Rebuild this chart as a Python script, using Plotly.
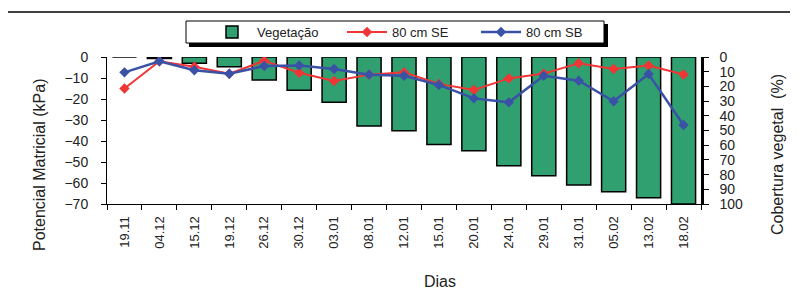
import plotly.graph_objects as go

dias = ["19.11", "04.12", "15.12", "19.12", "26.12", "30.12", "03.01", "08.01", "12.01",
        "15.01", "20.01", "24.01", "29.01", "31.01", "05.02", "13.02", "18.02"]
vegetacao = [0, 1, 4.3, 6.6, 15.6, 22.7, 30.8, 47, 50.2, 59.6, 63.7, 74, 80.7, 87, 91.6, 95.7, 100]
se_80 = [-15, -2, -4.6, -8, -1.8, -7.5, -11.4, -8.4, -7.3, -12.8, -15.7, -10.2, -7.9, -3, -5.7, -4.1, -8.3]
sb_80 = [-7.3, -2, -6.3, -8, -4.3, -4, -5.7, -8.4, -8.9, -13.3, -19.7, -21.6, -8.9, -11.3, -21.1, -8.1, -32.4]

# page body has an 8px margin; layout coordinates below are screen pixels
OFF = 8
W, H = 798 - OFF, 291 - OFF
L, R, T, B = 107, 701, 57, 204


def px(x):
    return (x - L) / (R - L)


def py(y):
    return (B - y) / (B - T)


FONT = "Liberation Sans, Arial, sans-serif"
TXT = "#222222"

fig = go.Figure()
fig.add_trace(go.Bar(
    x=dias, y=vegetacao, name="Vegetação", yaxis="y", legend="legend",
    marker=dict(color="#31a070", line=dict(color="black", width=1.5)),
    width=0.69,
))
fig.add_trace(go.Scatter(
    x=dias, y=se_80, name="80 cm SE", yaxis="y2", mode="lines+markers", legend="legend2",
    line=dict(color="#f03535", width=2),
    marker=dict(symbol="diamond", size=8, color="#f03535"),
))
fig.add_trace(go.Scatter(
    x=dias, y=sb_80, name="80 cm SB", yaxis="y2", mode="lines+markers", legend="legend3",
    line=dict(color="#3a52a6", width=2.5),
    marker=dict(symbol="diamond", size=8, color="#3a52a6"),
))

shapes = [
    dict(type="line", xref="paper", yref="paper", x0=px(8), x1=px(798), y0=py(12), y1=py(12),
         line=dict(color="black", width=1.5)),
    dict(type="rect", xref="paper", yref="paper", x0=px(189), x1=px(608), y0=py(24), y1=py(47),
         fillcolor="black", line=dict(width=0)),
    dict(type="rect", xref="paper", yref="paper", x0=px(186), x1=px(604), y0=py(21), y1=py(43),
         fillcolor="white", line=dict(color="black", width=1)),
]

annotations = [
    dict(text="Potencial Matricial (kPa)", xref="paper", yref="paper", x=px(39), y=py(165),
         xanchor="center", yanchor="middle",
         textangle=-90, showarrow=False, font=dict(size=16, color=TXT, family=FONT)),
    dict(text="Cobertura vegetal  (%)", xref="paper", yref="paper", x=px(777), y=py(155),
         xanchor="center", yanchor="middle",
         textangle=-90, showarrow=False, font=dict(size=16, color=TXT, family=FONT)),
    dict(text="Dias", xref="paper", yref="paper", x=px(440), y=py(281),
         xanchor="center", yanchor="middle",
         showarrow=False, font=dict(size=16, color=TXT, family=FONT)),
]


def leg(x):
    return dict(orientation="h", x=px(x), y=py(17), xanchor="left", yanchor="top",
                bgcolor="rgba(0,0,0,0)", borderwidth=0,
                font=dict(size=13, color=TXT, family=FONT), itemwidth=40)


fig.update_layout(
    width=W, height=H,
    margin=dict(l=L - OFF, r=W - (R - OFF), t=T - OFF, b=H - (B - OFF), pad=0, autoexpand=False),
    paper_bgcolor="white", plot_bgcolor="white",
    font=dict(family=FONT, color=TXT, size=13),
    showlegend=True,
    legend=leg(207), legend2=leg(342), legend3=leg(476),
    xaxis=dict(type="category", range=[-0.5, len(dias) - 0.5], tickson="boundaries",
               ticks="outside", ticklen=5,
               tickcolor="black", showline=True, linecolor="black", linewidth=1,
               tickangle=-90, tickfont=dict(size=13, color=TXT), showgrid=False,
               ticklabelstandoff=6),
    yaxis=dict(side="right", range=[100, 0], tickvals=list(range(0, 101, 10)),
               ticks="outside", ticklen=5, tickcolor="black", showline=True,
               linecolor="black", linewidth=2.5, showgrid=False, zeroline=False,
               tickfont=dict(size=14, color=TXT), ticklabelstandoff=8),
    yaxis2=dict(side="left", overlaying="y", range=[-70, 0], tickvals=list(range(-70, 1, 10)),
                ticks="outside", ticklen=5, tickcolor="black", showline=True,
                linecolor="black", linewidth=1, showgrid=False, zeroline=False,
                tickfont=dict(size=14, color=TXT), ticklabelstandoff=10),
    shapes=shapes,
    annotations=annotations,
)

fig.write_html("out.html")
